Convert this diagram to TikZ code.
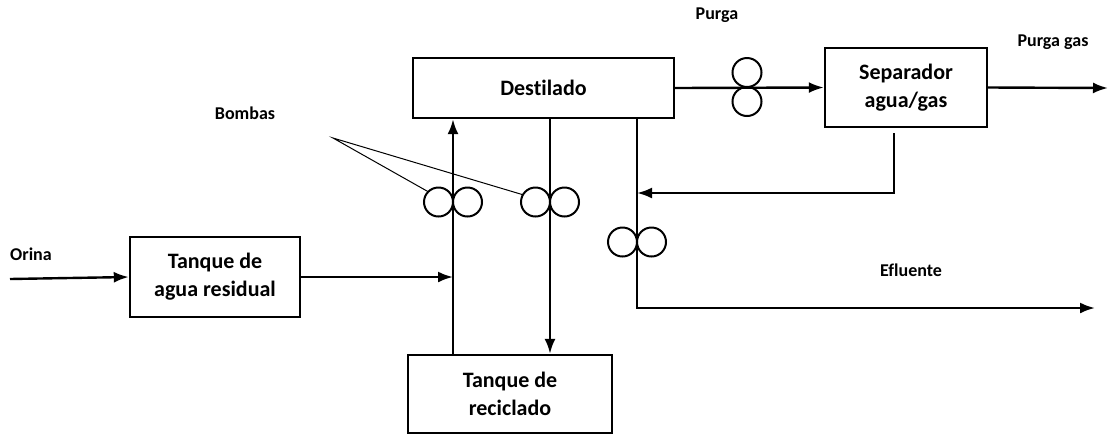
\documentclass[tikz,border=0pt]{standalone}
\usepackage{fontspec}
\setmainfont{Carlito}[Ligatures=NoCommon]
\usetikzlibrary{positioning,arrows.meta}
\tikzset{box node/.style={rectangle,draw,line width=1.2pt,align=center,inner sep=0pt,font=\bfseries\fontsize{11}{14}\selectfont},
	label node/.style={font=\bfseries\fontsize{9}{11}\selectfont},
	pump node/.style={circle,draw,line width=1pt,minimum size=14.5pt,inner sep=0pt,outer sep=0pt},
	flow/.style={line width=1.2pt,-{Latex[length=7.5pt,width=5.5pt]}},
}

\begin{document}
\begin{tikzpicture}[x=0.5pt,y=-0.5pt,node distance = 0pt]
	\useasboundingbox (0,0) rectangle (1110,435);
	\node[box node,minimum width=85pt,minimum height=40pt] (residual) at (215,277) {Tanque de\\agua residual};
	\node[box node,minimum width=130.5pt,minimum height=30pt] (destilado) at (543.5,88) {Destilado};
	\node[box node,minimum width=81pt,minimum height=39.5pt] (separador) at (906,87.5) {Separador\\agua/gas};
	\node[box node,minimum width=102pt,minimum height=39pt] (reciclado) at (510,394) {Tanque de\\reciclado};
	
	\node[label node] (orina) at (31,254) {Orina};
	\node[label node] (bombas) at (245,113) {Bombas};
	\node[label node] (purga) at (717,15) {Purga};
	\node[label node] (purga gas) at (1053,42) {Purga gas};
	\node[label node] (efluente) at (911,270) {Efluente};
	
	% bombas
	\coordinate (b1) at (453,202);
	\coordinate (b2) at (550,202);
	\coordinate (b3) at (637,242);
	\coordinate (b4) at (747,87);
	\node[pump node] (b1l)[left = of b1]{};
	\node[pump node] (b1r)[right = of b1]{};
	\node[pump node] (b2l)[left = of b2]{};
	\node[pump node] (b2r)[right = of b2]{};
	\node[pump node] (b3l)[left = of b3]{};
	\node[pump node] (b3r)[right = of b3]{};
	\node[pump node] (b4a)[above = of b4]{};
	\node[pump node] (b4b)[below = of b4]{};
	
	\coordinate (orina in) at (10,279);
	\coordinate (gas out) at (1108,88);
	\coordinate (efluente out) at (1095,308);
	\coordinate (sep out) at (894,133);
	\coordinate (retorno) at (637,193);
	\coordinate (bombas tip) at (333,138);
	
	\draw[flow] (orina in) -- (residual.west);
	\draw[flow] (residual.east) -- (residual.east -| b1);
	\draw[flow] (reciclado.north -| b1) -- (destilado.south -| b1);
	\draw[flow] (destilado.south -| b2) -- (reciclado.north -| b2);
	\draw[flow] (destilado.south -| b3) |- (efluente out);
	\draw[flow] (destilado.east) -- (separador.west);
	\draw[flow] (separador.east) -- (gas out);
	\draw[flow] (sep out) |- (retorno);
	\draw[line width=0.5pt] (b1l.north west) -- (bombas tip) -- (b2l.150);
\end{tikzpicture}
\end{document}
